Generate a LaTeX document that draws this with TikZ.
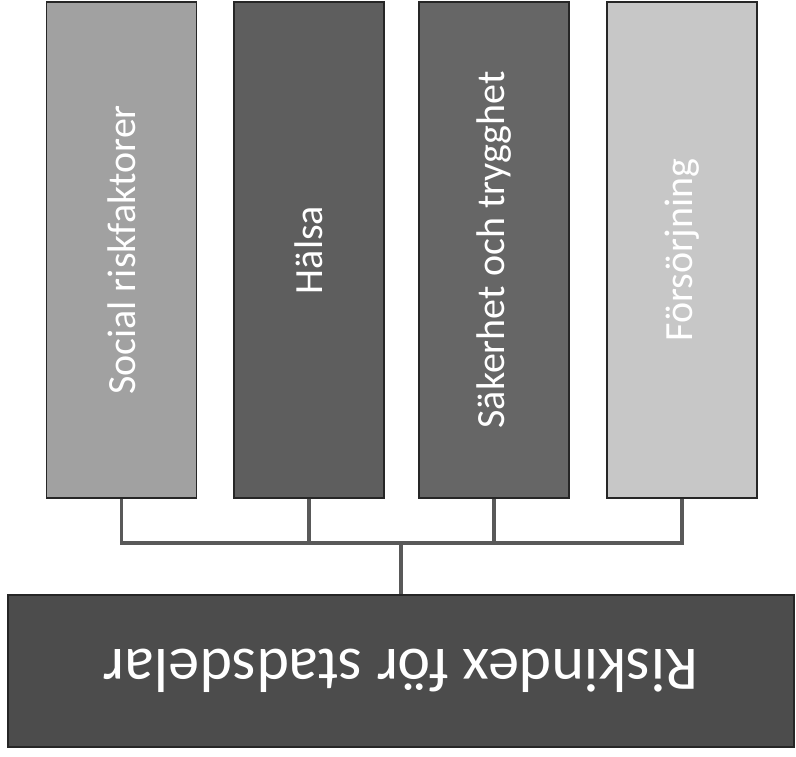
\documentclass[tikz,border=0pt]{standalone}
\usepackage{fontspec}
\setmainfont{Carlito}
\begin{document}
\begin{tikzpicture}[x=1pt, y=-1pt,
  pillar/.style={draw=black!85, line width=1.5pt, minimum width=150pt, minimum height=496pt, inner sep=0pt, text=white, font=\fontsize{40}{40}\selectfont},
  base/.style={draw=black!85, line width=1.5pt, minimum width=786pt, minimum height=152pt, inner sep=0pt, fill=black!70, text=white, font=\fontsize{62}{62}\selectfont},
  link/.style={draw=black!65, line width=3.5pt}]
\useasboundingbox (0,0) rectangle (796,756);
% fyra delindex
\node[pillar, fill=black!37] (social) at (121.5,250) {\rotatebox{90}{Social riskfaktorer}};
\node[pillar, fill=black!63] (halsa) at (309,250) {\rotatebox{90}{Hälsa}};
\node[pillar, fill=black!60] (saker) at (494,250) {\rotatebox{90}{Säkerhet och trygghet}};
\node[pillar, fill=black!22] (forsorj) at (682,250) {\rotatebox{90}{Försörjning}};
% samlat index
\node[base] (risk) at (401,671) {\rotatebox{180}{Riskindex för stadsdelar}};
\coordinate (hub) at (401,543);
\draw[link] (social.south) |- (hub);
\draw[link] (halsa.south) |- (hub);
\draw[link] (saker.south) |- (hub);
\draw[link] (forsorj.south) |- (hub);
\draw[link] (hub) -- (risk.north);
\end{tikzpicture}
\end{document}
